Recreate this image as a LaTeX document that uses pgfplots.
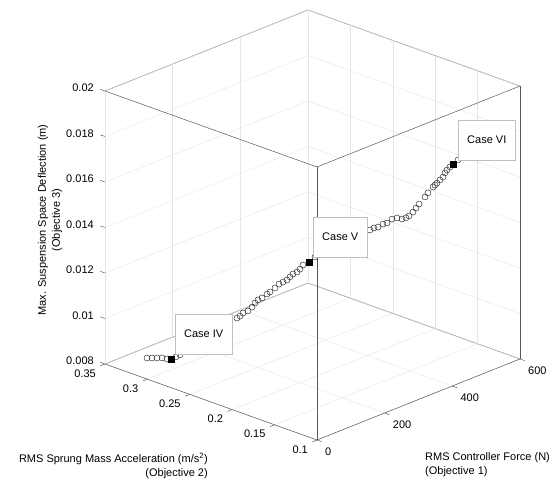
\documentclass[border=0pt]{standalone}
\usepackage{pgfplots}
\usepackage{pgfplotstable}
\pgfplotsset{compat=1.18}
\usepackage{fontspec}
\setmainfont{Liberation Sans}

% Pareto front: F = RMS controller force (N), A = RMS sprung mass acc. (m/s^2), D = max. susp. deflection (m)
\pgfplotstableread{
F A D
11.2 0.3049 0.00880
19.2 0.3022 0.00879
27.2 0.2995 0.00878
35.2 0.2968 0.00877
43.2 0.2941 0.00871
49.6 0.2920 0.00870
57.6 0.2893 0.00878
64.0 0.2871 0.00886
80.0 0.2817 0.00910
99.2 0.2752 0.00938
118.4 0.2687 0.00970
137.6 0.2622 0.01007
155.2 0.2563 0.01035
160.0 0.2546 0.01043
164.8 0.2530 0.01056
172.8 0.2503 0.01064
179.2 0.2481 0.01080
184.0 0.2465 0.01097
188.8 0.2449 0.01110
195.2 0.2427 0.01118
203.2 0.2400 0.01134
208.0 0.2384 0.01142
216.0 0.2357 0.01159
222.4 0.2335 0.01175
228.8 0.2314 0.01183
235.2 0.2292 0.01191
240.0 0.2276 0.01204
244.8 0.2260 0.01216
251.2 0.2238 0.01224
256.0 0.2222 0.01236
260.8 0.2206 0.01253
270.4 0.2173 0.01265
280.0 0.2141 0.01286
300.8 0.2070 0.01318
323.2 0.1995 0.01354
345.6 0.1919 0.01378
368.0 0.1843 0.01392
374.4 0.1822 0.01400
380.8 0.1800 0.01403
388.8 0.1773 0.01415
395.2 0.1751 0.01419
403.2 0.1724 0.01435
411.2 0.1697 0.01439
419.2 0.1670 0.01433
425.6 0.1649 0.01437
430.4 0.1632 0.01445
436.8 0.1611 0.01461
441.6 0.1594 0.01478
446.4 0.1578 0.01495
456.0 0.1546 0.01525
460.8 0.1530 0.01542
468.8 0.1502 0.01567
472.0 0.1492 0.01575
475.2 0.1481 0.01583
480.0 0.1465 0.01596
484.8 0.1448 0.01608
488.0 0.1438 0.01626
491.2 0.1427 0.01638
496.0 0.1411 0.01651
500.8 0.1394 0.01663
508.8 0.1367 0.01680
516.8 0.1340 0.01696
}\front

\pgfplotstableread{
F A D
49.6 0.2920 0.00870
270.4 0.2173 0.01265
500.8 0.1394 0.01663
}\cases

\begin{document}
\begin{tikzpicture}[font=\fontsize{11}{14}\selectfont]
\begin{axis}[
  x={(33.833pt,13.5pt)}, y={(-8.48pt,3.04pt)}, z={(0pt,22.75pt)},
  xmin=0, xmax=6, ymin=10, ymax=35, zmin=8, zmax=20,
  grid=major,
  major grid style={draw=black!10, line width=0.4pt},
  axis line style={draw=black!65, line width=0.5pt},
  every tick/.style={draw=none},
  tick align=outside,
  major tick length=5pt,
  xtick pos=left, ytick pos=left, ztick pos=left,
  xtick={0,2,4,6}, xticklabels={0,200,400,600},
  ytick={10,15,20,25,30,35}, yticklabels={0.1,0.15,0.2,0.25,0.3,0.35},
  ztick={8,10,12,14,16,18,20},
  zticklabels={0.008,0.01,0.012,0.014,0.016,0.018,0.02},
  xticklabel style={anchor=west, yshift=-10pt},
  yticklabel style={anchor=east, xshift=-1pt, yshift=-7.5pt},
  zticklabel style={anchor=east, xshift=-3pt, yshift=1.5pt},
  clip=false,
  xlabel={RMS Controller Force (N)\\(Objective 1)},
  ylabel={RMS Sprung Mass Acceleration (m/s\textsuperscript{2})\\(Objective 2)},
  zlabel={Max. Suspension Space Deflection (m)\\(Objective 3)},
  xlabel style={at={(axis cs:0,10,8)}, anchor=north west, xshift=108pt, yshift=-12pt, align=left, inner sep=0pt, rotate=0},
  ylabel style={at={(axis cs:0,10,8)}, anchor=north east, xshift=-109pt, yshift=-13pt, align=right, inner sep=0pt, rotate=0},
  zlabel style={at={(axis cs:0,41.49,13.46)}, anchor=center, align=center, inner sep=0pt},
]
\addplot3[only marks, mark=o, mark size=3pt, mark options={draw=black!85, line width=0.45pt}]
  table[x expr=\thisrow{F}/100, y expr=\thisrow{A}*100, z expr=\thisrow{D}*1000] {\front};
\addplot3[only marks, mark=square*, mark size=3.2pt, mark options={draw=black, fill=black}]
  table[x expr=\thisrow{F}/100, y expr=\thisrow{A}*100, z expr=\thisrow{D}*1000] {\cases};
% foreground box edges
\draw[black!65, line width=0.5pt] (axis cs:0,10,20) -- (axis cs:6,10,20);
\draw[black!65, line width=0.5pt] (axis cs:0,10,20) -- (axis cs:0,35,20);
\draw[black!65, line width=0.5pt] (axis cs:0,10,20) -- (axis cs:0,10,8);
% tick marks (outward, MATLAB style)
\pgfplotsinvokeforeach{8,10,12,14,16,18,20}{\draw[black!65, line width=0.5pt] (axis cs:0,35,#1) -- (axis cs:0,35.55,#1);}
\pgfplotsinvokeforeach{10,15,20,25,30,35}{\draw[black!65, line width=0.5pt] (axis cs:0,#1,8) -- (axis cs:-0.137,#1,8);}
\pgfplotsinvokeforeach{0,2,4,6}{\draw[black!65, line width=0.5pt] (axis cs:#1,10,8) -- (axis cs:#1,9.45,8);}
\coordinate (c4) at (axis cs:0.496,29.20,8.70);
\coordinate (c5) at (axis cs:2.704,21.73,12.65);
\coordinate (c6) at (axis cs:5.008,13.94,16.63);
\coordinate (O) at (axis cs:0,10,8);
\end{axis}
\tikzset{casebox/.style={draw=black!25, fill=white, anchor=south west, minimum height=40pt, inner xsep=9pt}}
\node[casebox] at ([shift={(4pt,5pt)}]c4) {Case IV};
\node[casebox] at ([shift={(4pt,5pt)}]c5) {Case V};
\node[casebox] at ([shift={(5pt,4pt)}]c6) {Case VI};
\pgfresetboundingbox
\path[use as bounding box] (O) ++(-317pt,-41pt) rectangle ++(555pt,481pt);
\end{tikzpicture}
\end{document}
